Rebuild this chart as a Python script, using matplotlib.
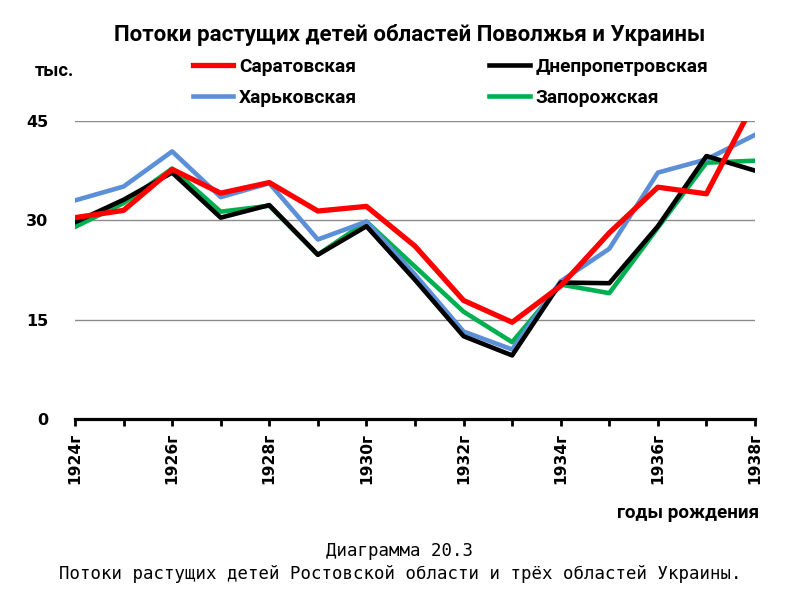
import matplotlib
matplotlib.use("Agg")
import matplotlib.pyplot as plt

years = list(range(1924, 1939))
tick_labels = [f"{y}г" if (y - 1924) % 2 == 0 else "" for y in years]

saratov = [30.4, 31.5, 37.7, 34.1, 35.7, 31.4, 32.1, 26.1, 17.9, 14.6, 20.1, 28.1, 35.0, 34.0, 48.0]
dnepr = [29.7, 33.1, 37.2, 30.4, 32.3, 24.8, 29.1, 21.0, 12.5, 9.6, 20.6, 20.5, 29.1, 39.7, 37.5]
kharkov = [33.0, 35.1, 40.4, 33.5, 35.6, 27.1, 29.8, 21.8, 13.2, 10.5, 20.8, 25.7, 37.2, 39.2, 42.9]
zapor = [29.0, 32.6, 37.8, 31.3, 32.2, 24.8, 29.8, 23.0, 16.2, 11.6, 20.3, 19.0, 28.9, 38.7, 39.0]

narrow = ["Roboto", "DejaVu Sans"]

fig = plt.figure(figsize=(8, 6), dpi=100)
ax = fig.add_axes([0.09375, 0.3017, 0.85, 0.4967])

l_zap, = ax.plot(years, zapor, color="#00b050", lw=3.3, label="Запорожская")
l_har, = ax.plot(years, kharkov, color="#5b8fd8", lw=3.3, label="Харьковская")
l_dne, = ax.plot(years, dnepr, color="black", lw=3.3, label="Днепропетровская")
l_sar, = ax.plot(years, saratov, color="#ff0000", lw=3.8, label="Саратовская")

ax.set_xlim(1924, 1938)
ax.set_ylim(0, 45)
ax.set_yticks([0, 15, 30, 45])
ax.set_xticks(years)
ax.set_xticklabels(tick_labels, rotation=90, fontweight="bold", fontsize=11.2)
for t in ax.get_yticklabels():
    t.set_fontweight("bold")
    t.set_fontsize(11.5)

ax.grid(axis="y", color="#8c8c8c", lw=1)
ax.set_axisbelow(True)
for s in ["top", "right", "left"]:
    ax.spines[s].set_visible(False)
ax.spines["bottom"].set_linewidth(2.3)
ax.tick_params(axis="x", direction="out", length=5, width=2, pad=5)
ax.tick_params(axis="y", length=0, pad=19)

fig.text(0.512, 0.942, "Потоки растущих детей областей Поволжья и Украины",
         ha="center", va="center", fontsize=16, fontweight="bold", family=narrow)
fig.text(0.044, 0.882, "тыс.", ha="left", va="center", fontsize=13.2,
         fontweight="bold", family=narrow)
fig.text(0.949, 0.145, "годы рождения", ha="right", va="center", fontsize=13.6,
         fontweight="bold", family=narrow)

leg = fig.legend([l_sar, l_har, l_dne, l_zap],
                 ["Саратовская", "Харьковская", "Днепропетровская", "Запорожская"],
                 ncol=2, loc="upper left", bbox_to_anchor=(0.2196, 0.932),
                 frameon=False, handlelength=2.1, handletextpad=0.3,
                 columnspacing=6.9, labelspacing=0.68,
                 prop={"family": narrow, "weight": "bold", "size": 13.8})

fig.text(0.5, 0.063, "Диаграмма 20.3\nПотоки растущих детей Ростовской области и трёх областей Украины.",
         ha="center", va="center", fontsize=12.5, family="DejaVu Sans Mono",
         linespacing=1.35)

fig.savefig("out.png", dpi=100)
